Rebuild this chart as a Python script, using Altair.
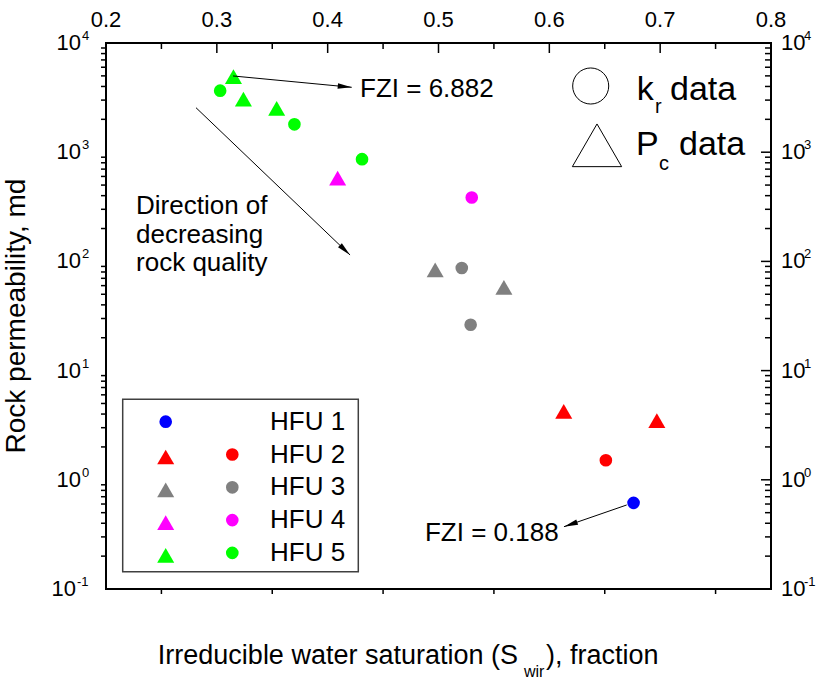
import math
import altair as alt
import pandas as pd

# ---------------- data ----------------
units = ["HFU 1", "HFU 2", "HFU 3", "HFU 4", "HFU 5"]
unit_colors = ["#0000FF", "#FF0000", "#808080", "#FF00FF", "#00FF00"]

# k_r data (circles)
kr_unit = ["HFU 1", "HFU 2", "HFU 3", "HFU 3", "HFU 4", "HFU 5", "HFU 5", "HFU 5"]
kr_swir = [0.676, 0.651, 0.521, 0.529, 0.530, 0.303, 0.370, 0.431]
kr_perm = [0.615, 1.51, 87.0, 26.3, 385.0, 3660.0, 1800.0, 863.0]

# P_c data (triangles)
pc_unit = ["HFU 2", "HFU 2", "HFU 3", "HFU 3", "HFU 4", "HFU 5", "HFU 5", "HFU 5"]
pc_swir = [0.613, 0.697, 0.497, 0.559, 0.409, 0.315, 0.324, 0.354]
pc_perm = [4.46, 3.68, 88.0, 61.0, 610.0, 5200.0, 3230.0, 2650.0]

# axis ticks
x_domain = [0.2, 0.8]
y_domain = [0.1, 10000]
x_major = [0.2, 0.3, 0.4, 0.5, 0.6, 0.7, 0.8]
x_minor = [0.25, 0.35, 0.45, 0.55, 0.65, 0.75]
y_decades = [0.1, 1, 10, 100, 1000, 10000]
y_exponents = ["-1", "0", "1", "2", "3", "4"]
y_minor = [d * m for d in y_decades[:-1] for m in range(2, 10)]

# annotations (data coordinates)
arrow_fzi_high = [(0.3146, 4990.0), (0.4217, 3930.0)]
arrow_direction = [(0.2812, 2556.0), (0.4202, 114.5)]
arrow_fzi_low = [(0.6698, 0.588), (0.6132, 0.372)]
note_fzi_high = (0.4292, 3184.0, "FZI = 6.882")
note_fzi_low = (0.4878, 0.2754, "FZI = 0.188")
note_direction = (0.2271, 270.0, "Direction of\ndecreasing\nrock quality")

# ---------------- layout ----------------
W, H = 665, 546
FONT = "Liberation Sans"
TICK_FS = 22
EXP_FS = 13

xs = alt.Scale(domain=x_domain, nice=False, zero=False)
ys = alt.Scale(type="log", domain=y_domain, nice=False)
cs = alt.Scale(domain=units, range=unit_colors)


def px_x(v):
    return (v - x_domain[0]) / (x_domain[1] - x_domain[0]) * W


def px_y(v):
    lo, hi = math.log10(y_domain[0]), math.log10(y_domain[1])
    return (hi - math.log10(v)) / (hi - lo) * H


def X(field):
    return alt.X(field, scale=xs, axis=None)


def Y(field):
    return alt.Y(field, scale=ys, axis=None)


one = pd.DataFrame({"a": [0]})

kr = pd.DataFrame({"unit": kr_unit, "swir": kr_swir, "perm": kr_perm})
pc = pd.DataFrame({"unit": pc_unit, "swir": pc_swir, "perm": pc_perm})

circles = alt.Chart(kr).mark_point(shape="circle", filled=True, size=160, opacity=1).encode(
    x=alt.X("swir:Q", scale=xs,
            axis=alt.Axis(values=x_major, format=".1f", tickSize=10, tickWidth=1.5,
                          tickColor="black", domain=False, grid=False, title=None,
                          labelFont=FONT, labelFontSize=TICK_FS, labelColor="black",
                          labelPadding=4)),
    y=alt.Y("perm:Q", scale=ys,
            axis=alt.Axis(values=y_decades, tickSize=10, tickWidth=1.5, tickColor="black",
                          labels=False, domain=False, grid=False, title=None)),
    color=alt.Color("unit:N", scale=cs, legend=None),
)

triangles = alt.Chart(pc).mark_point(shape="triangle-up", filled=True, size=290, opacity=1,
                                     yOffset=2.5).encode(
    x=X("swir:Q"), y=Y("perm:Q"), color=alt.Color("unit:N", scale=cs, legend=None)
)

layers = [circles, triangles]

# ---- ticks ----
xmaj = pd.DataFrame({"v": x_major})
xmin = pd.DataFrame({"v": x_minor})
ymaj = pd.DataFrame({"v": y_decades})
ymin = pd.DataFrame({"v": y_minor})

tick = dict(color="black", strokeWidth=1.5)
layers += [
    alt.Chart(xmaj).mark_rule(**tick).encode(x=X("v:Q"), y=alt.value(0), y2=alt.value(10)),
    alt.Chart(xmin).mark_rule(**tick).encode(x=X("v:Q"), y=alt.value(0), y2=alt.value(6)),
    alt.Chart(xmin).mark_rule(**tick).encode(x=X("v:Q"), y=alt.value(H), y2=alt.value(H + 5)),
    alt.Chart(ymin).mark_rule(**tick).encode(y=Y("v:Q"), x=alt.value(-5), x2=alt.value(0)),
    alt.Chart(ymaj).mark_rule(**tick).encode(y=Y("v:Q"), x=alt.value(W - 10), x2=alt.value(W)),
    alt.Chart(ymin).mark_rule(**tick).encode(y=Y("v:Q"), x=alt.value(W - 6), x2=alt.value(W)),
]

# top tick labels
layers.append(
    alt.Chart(xmaj).mark_text(font=FONT, fontSize=TICK_FS, color="black", baseline="alphabetic").encode(
        x=X("v:Q"), y=alt.value(-16), text=alt.Text("v:Q", format=".1f"))
)

# left / right log labels (10 with superscript exponent)
lab = pd.DataFrame({"v": y_decades, "e": y_exponents})
pos = lab[lab.e != "-1"]
neg = lab[lab.e == "-1"]


def base_text(df, xpx, align):
    return alt.Chart(df).mark_text(font=FONT, fontSize=TICK_FS, color="black", align=align,
                                   baseline="middle").encode(
        x=alt.value(xpx), y=Y("v:Q"), text=alt.value("10"))


def exp_text(df, xpx):
    return alt.Chart(df).mark_text(font=FONT, fontSize=EXP_FS, color="black", align="left",
                                   baseline="alphabetic", dy=-3).encode(
        x=alt.value(xpx), y=Y("v:Q"), text="e:N")


layers += [
    base_text(pos, -25, "right"), exp_text(pos, -24),
    base_text(neg, -30, "right"), exp_text(neg, -29),
    base_text(lab, W + 10, "left"), exp_text(lab, W + 33),
]

# ---- arrows ----
HEAD = "M0,0L-0.4,2L0.4,2Z"


def arrow(start, end):
    df = pd.DataFrame({"x": [start[0]], "y": [start[1]], "x2": [end[0]], "y2": [end[1]]})
    line = alt.Chart(df).mark_rule(color="black", strokeWidth=1).encode(
        x=X("x:Q"), y=Y("y:Q"), x2="x2:Q", y2="y2:Q")
    dx = px_x(end[0]) - px_x(start[0])
    dy = px_y(end[1]) - px_y(start[1])
    ang = math.degrees(math.atan2(dx, -dy)) % 360
    head = alt.Chart(df).mark_point(shape=HEAD, filled=True, size=196, angle=ang,
                                    color="black", opacity=1).encode(x=X("x2:Q"), y=Y("y2:Q"))
    return [line, head]


for a in (arrow_fzi_high, arrow_direction, arrow_fzi_low):
    layers += arrow(*a)


def note(n, size, **kw):
    df = pd.DataFrame({"x": [n[0]], "y": [n[1]], "t": [n[2]]})
    return alt.Chart(df).mark_text(font=FONT, fontSize=size, align="left", baseline="alphabetic",
                                   color="black", **kw).encode(x=X("x:Q"), y=Y("y:Q"), text="t:N")


layers += [
    note(note_fzi_high, 26),
    note(note_fzi_low, 26),
    note(note_direction, 26, lineBreak="\n", lineHeight=28.5),
]


# ---- pixel-positioned text helpers ----
def ptext(x, y, t, size, align="left", baseline="alphabetic", angle=0):
    return alt.Chart(pd.DataFrame({"t": [t]})).mark_text(
        font=FONT, fontSize=size, align=align, baseline=baseline, angle=angle, color="black"
    ).encode(x=alt.value(x), y=alt.value(y), text="t:N")


# ---- HFU legend (lower left) ----
layers.append(
    alt.Chart(one).mark_rect(fillOpacity=0, stroke="#404040", strokeWidth=1.5).encode(
        x=alt.value(16.7), x2=alt.value(252.3), y=alt.value(356.3), y2=alt.value(528.7))
)
row_y0, row_dy = 378.7, 32.8
col1, col2, col_txt = 59.7, 126.3, 164
for i, (u, c) in enumerate(zip(units, unit_colors)):
    ry = row_y0 + i * row_dy
    if i == 0:
        layers.append(alt.Chart(one).mark_point(shape="circle", filled=True, size=160, opacity=1,
                                                color=c).encode(x=alt.value(col1), y=alt.value(ry)))
    else:
        layers.append(alt.Chart(one).mark_point(shape="triangle-up", filled=True, size=290, opacity=1,
                                                color=c, yOffset=2.5).encode(x=alt.value(col1), y=alt.value(ry)))
        layers.append(alt.Chart(one).mark_point(shape="circle", filled=True, size=160, opacity=1,
                                                color=c).encode(x=alt.value(col2), y=alt.value(ry)))
    layers.append(ptext(col_txt, ry, u, 26, baseline="middle"))

# ---- shape legend (upper right) ----
layers += [
    alt.Chart(one).mark_point(shape="circle", filled=False, size=1300, color="black",
                              strokeWidth=1, opacity=1).encode(x=alt.value(484.7), y=alt.value(43)),
    alt.Chart(one).mark_point(shape="triangle-up", filled=False, size=2430, color="black",
                              strokeWidth=1, opacity=1).encode(x=alt.value(491), y=alt.value(102.3)),
    ptext(530.7, 57, "k", 34), ptext(549, 70, "r", 20), ptext(564, 57, "data", 34),
    ptext(530, 112, "P", 34), ptext(553, 127, "c", 20), ptext(573, 112, "data", 34),
]

# ---- axis titles ----
layers += [
    ptext(-89, H / 2, "Rock permeability, md", 28, align="center", baseline="middle", angle=270),
    ptext(412, H + 75, "Irreducible water saturation (S", 27, align="right"),
    ptext(418, H + 88, "wir", 16),
    ptext(440, H + 75, "), fraction", 27),
]

chart = alt.layer(*layers).properties(
    width=W, height=H,
    padding={"left": 106, "top": 43, "right": 46, "bottom": 91},
    autosize=alt.AutoSizeParams(type="none"),
).configure_view(stroke="black", strokeWidth=2)

chart.save("out.html", embed_options={"renderer": "svg", "actions": False})
